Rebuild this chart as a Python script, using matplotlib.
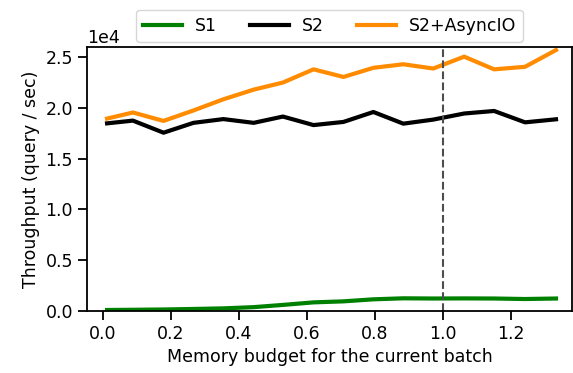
import matplotlib
matplotlib.use("Agg")
import matplotlib.pyplot as plt

# memory budget (fraction of the current batch) and measured throughput
budget = [0.012, 0.088, 0.178, 0.266, 0.354, 0.443, 0.529, 0.619,
          0.707, 0.795, 0.883, 0.971, 1.062, 1.150, 1.241, 1.332]
s1 = [100, 120, 150, 200, 260, 380, 600, 850,
      950, 1150, 1250, 1230, 1240, 1230, 1180, 1230]
s2 = [18480, 18750, 17560, 18530, 18900, 18530, 19150, 18310,
      18620, 19600, 18450, 18850, 19450, 19700, 18580, 18880]
s2_async = [18950, 19550, 18720, 19750, 20850, 21800, 22500, 23800,
            23050, 23950, 24300, 23880, 25050, 23800, 24050, 25700]

fs = 12.5

fig = plt.figure(figsize=(5.73, 3.73), dpi=100)
ax = fig.add_axes([87 / 573, 62 / 373, 485 / 573, 264 / 373])

ax.plot(budget, s1, color="green", lw=3, label="S1")
ax.plot(budget, s2, color="black", lw=3, label="S2")
ax.plot(budget, s2_async, color="darkorange", lw=3, label="S2+AsyncIO")
ax.axvline(1.0, color="0.3", lw=1.5, ls="--")

ax.set_xlim(-0.047, 1.379)
ax.set_ylim(0, 26000)
ax.ticklabel_format(axis="y", style="sci", scilimits=(0, 0))
ax.yaxis.get_offset_text().set_fontsize(fs)

ax.set_xlabel("Memory budget for the current batch", fontsize=fs)
ax.set_ylabel("Throughput (query / sec)", fontsize=fs)
ax.tick_params(labelsize=fs, length=6.5, width=1.3)
for sp in ax.spines.values():
    sp.set_linewidth(1.3)

ax.legend(loc="lower center", bbox_to_anchor=(0.5, 1.0), ncol=3,
          fontsize=fs, handlelength=2.25, handletextpad=0.73,
          columnspacing=1.9, borderpad=0.4, borderaxespad=0.3)

fig.savefig("out.png", dpi=100)
